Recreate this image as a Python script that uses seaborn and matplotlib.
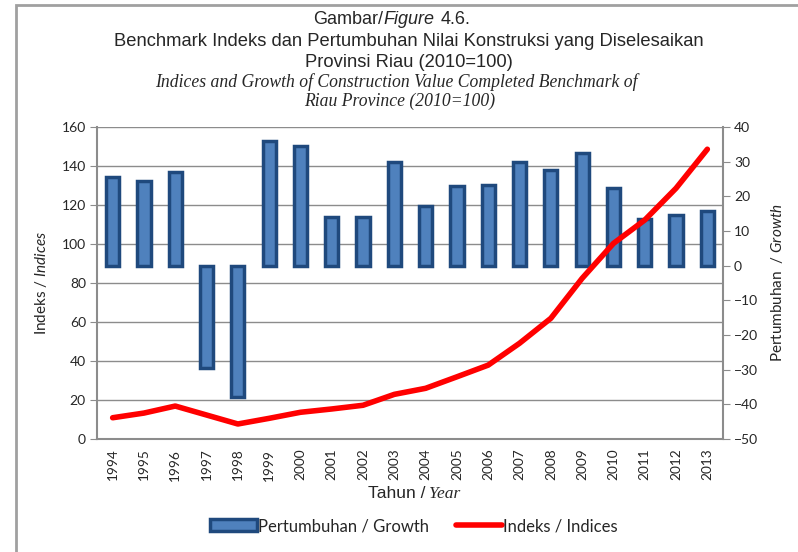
import numpy as np
import matplotlib
matplotlib.use("Agg")
import matplotlib.pyplot as plt
import seaborn as sns
from matplotlib.patches import Patch, Rectangle
from matplotlib.lines import Line2D

# data
years = [str(y) for y in range(1994, 2014)]
growth = [25.5, 24.5, 27.0, -29.5, -37.9, 35.9, 34.6, 13.9, 13.9, 29.8,
          17.3, 22.9, 23.3, 30.0, 27.5, 32.5, 22.5, 13.5, 14.5, 15.7]
indices = [10.9, 13.3, 16.9, 12.3, 7.7, 10.6, 13.7, 15.4, 17.3, 22.9,
           26.0, 31.9, 37.9, 49.1, 61.9, 82.4, 100.3, 112.3, 128.6, 148.6]

sns.set_style("white")
plt.rcParams["font.family"] = ["Lato", "DejaVu Sans"]
plt.rcParams["mathtext.fontset"] = "custom"
plt.rcParams["mathtext.it"] = "Lato:italic"
plt.rcParams["mathtext.rm"] = "Lato"

axis_grey = "#8c8c8c"
bar_fill = "#4f81bd"
bar_edge = "#1f497d"

fig = plt.figure(figsize=(7.98, 5.52), dpi=100)
ax = fig.add_axes([97 / 798, 1 - 439 / 552, (723 - 97) / 798, (439 - 127) / 552])
ax2 = ax.twinx()   # growth bars
ax3 = ax.twinx()   # index line on top

# grid on the index axis
ax.set_ylim(0, 160)
ax.set_yticks(np.arange(0, 161, 20))
ax.yaxis.grid(True, color=axis_grey, linewidth=1)
ax.set_axisbelow(True)

sns.barplot(x=years, y=growth, ax=ax2, color=bar_fill, width=0.42,
            edgecolor=bar_edge, linewidth=2.5, saturation=1)
ax2.set_ylim(-50, 40)
ax2.set_yticks(np.arange(-50, 41, 10))

sns.lineplot(x=np.arange(len(years)), y=indices, ax=ax3, color="red",
             linewidth=4, solid_capstyle="round")
ax3.set_ylim(0, 160)
ax3.yaxis.set_visible(False)

for a in (ax, ax2, ax3):
    a.set_xlim(-0.5, len(years) - 0.5)
    for s in a.spines.values():
        s.set_visible(False)

ax.spines["left"].set_visible(True)
ax.spines["bottom"].set_visible(True)
ax2.spines["right"].set_visible(True)
for s in (ax.spines["left"], ax.spines["bottom"], ax2.spines["right"]):
    s.set_color(axis_grey)
    s.set_linewidth(1.5)

# category labels, tick marks between the bars
ax.set_xticks(np.arange(len(years)))
ax.set_xticklabels(years, rotation=90, fontsize=9.8)
ax.set_xticks(np.arange(-0.5, len(years)), minor=True)
ax.tick_params(axis="x", which="major", length=0, pad=7)
ax.tick_params(axis="x", which="minor", length=5, color=axis_grey, width=1)
ax.tick_params(axis="y", length=5, color=axis_grey, labelsize=10, pad=3)
ax2.tick_params(axis="y", length=5, color=axis_grey, labelsize=10, pad=3)
ax.set_xlabel("")
ax2.set_xlabel("")
ax3.set_xlabel("")

ax.set_ylabel("Indeks / $\\it{Indices}$", fontsize=11, labelpad=9)
ax2.set_ylabel("Pertumbuhan  / $\\it{Growth}$", fontsize=11, labelpad=8)

# titles
ty = 1 - 20 / 552
fig.text(383 / 798, ty, "Gambar/", ha="right", va="center",
         family="Liberation Sans", fontsize=13)
fig.text(383 / 798, ty, "Figure", ha="left", va="center",
         family="Liberation Sans", style="italic", fontsize=13)
fig.text(441 / 798, ty, "4.6.", ha="left", va="center",
         family="Liberation Sans", fontsize=13)
fig.text(409 / 798, 1 - 42 / 552,
         "Benchmark Indeks dan Pertumbuhan Nilai Konstruksi yang Diselesaikan",
         ha="center", va="center", family="Liberation Sans", fontsize=13.2)
fig.text(409 / 798, 1 - 62 / 552, "Provinsi Riau (2010=100)",
         ha="center", va="center", family="Liberation Sans", fontsize=13.2)
fig.text(396 / 798, 1 - 82 / 552,
         "Indices and Growth of Construction Value Completed Benchmark of",
         ha="center", va="center", family="Liberation Serif",
         style="italic", fontsize=12.7)
fig.text(400 / 798, 1 - 101 / 552, "Riau Province (2010=100)",
         ha="center", va="center", family="Liberation Serif",
         style="italic", fontsize=12.7)

# x axis label
fig.text(425 / 798, 1 - 494 / 552, "Tahun /", ha="right", va="center",
         family="Liberation Sans", fontsize=12.5)
fig.text(429 / 798, 1 - 494 / 552, "Year", ha="left", va="center",
         family="Liberation Serif", style="italic", fontsize=12.5)

# legend
handles = [Patch(facecolor=bar_fill, edgecolor=bar_edge, linewidth=2.5),
           Line2D([], [], color="red", linewidth=4)]
fig.legend(handles, ["Pertumbuhan / Growth", "Indeks / Indices"],
           loc="center", bbox_to_anchor=(414 / 798, 1 - 526 / 552), ncol=2,
           frameon=False, fontsize=12, handlelength=2.8, handletextpad=0.05,
           columnspacing=1.6)

# outer frame of the figure
fig.add_artist(Rectangle((16 / 798, -0.1), 1.2, 1 - 5 / 552 + 0.1,
                         transform=fig.transFigure, fill=False,
                         edgecolor="#a0a0a0", linewidth=2))

fig.savefig("out.png", dpi=100)
